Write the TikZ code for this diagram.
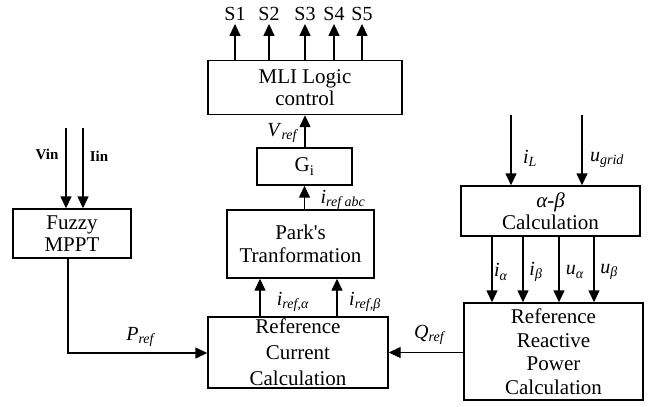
\documentclass[tikz,border=0pt]{standalone}
\usepackage{fontspec}
\setmainfont{Liberation Serif}
\usetikzlibrary{arrows.meta}
% italic symbol with italic subscript
\newcommand\isym[2]{\textit{#1}\textsubscript{\textit{#2}}}
\begin{document}
\begin{tikzpicture}[x=1pt,y=-1pt,
  box/.style={draw, line width=1.4pt, align=center, inner sep=0pt,
    font=\fontsize{21}{23.5}\selectfont},
  sig/.style={line width=1.4pt, -{Triangle[width=11pt,length=12pt]}},
  lab/.style={inner sep=1pt, font=\fontsize{20}{22}\selectfont},
  outlab/.style={inner sep=1pt, font=\fontsize{20}{21}\selectfont},
  inlab/.style={inner sep=1pt, font=\fontsize{15}{17}\selectfont\bfseries}]
\useasboundingbox (0,0) rectangle (648,407);

% blocks
\node[box, minimum width=194pt, minimum height=54pt, font=\fontsize{21}{22}\selectfont] (mli) at (305,87.5) {MLI Logic\\control};
\node[box, minimum width=95pt, minimum height=37pt] (gi) at (304.5,166.5) {G\textsubscript{i}};
\node[box, minimum width=147pt, minimum height=68pt] (pk) at (300.5,244) {Park\textquotesingle s\\Tranformation};
\node[box, minimum width=180pt, minimum height=71pt, font=\fontsize{21}{26}\selectfont] (rc) at (298,352.5) {Reference\\Current\\Calculation};
\node[box, minimum width=118pt, minimum height=49pt, font=\fontsize{21}{22}\selectfont] (fz) at (72,233.5) {Fuzzy\\MPPT};
\node[box, minimum width=179pt, minimum height=50pt, font=\fontsize{21}{22}\selectfont] (ab) at (550.5,211) {\textit{α-β}\\Calculation};
\node[box, minimum width=179pt, minimum height=97pt] (rq) at (553.5,351.5) {Reference\\Reactive\\Power\\Calculation};

% switching outputs
\foreach \n/\x in {1/235,2/269,3/305,4/334,5/362}{
  \node[outlab] (s\n) at (\x,14) {S\n};
  \draw[sig] (mli.north -| s\n) -- ([yshift=-2pt]s\n.south);
}

% main chain
\draw[sig] (gi.north -| mli.south) -- (mli.south);
\node[lab] (vref) at (283,133) {\isym{V}{ref}};
\draw[sig] (pk.north -| gi.south) -- (gi.south);
\node[lab] (iabc) at (343,200) {\isym{i}{ref abc}};

\coordinate (pa) at (260,300);
\coordinate (pb) at (337,300);
\draw[sig] (rc.north -| pa) -- (pk.south -| pa);
\draw[sig] (rc.north -| pb) -- (pk.south -| pb);
\node[lab] (ira) at (293,302) {\isym{i}{ref,α}};
\node[lab] (irb) at (365,302) {\isym{i}{ref,β}};

% MPPT branch
\coordinate (vin0) at (66,128);
\coordinate (iin0) at (83,128);
\draw[sig] (vin0) -- (vin0 |- fz.north);
\draw[sig] (iin0) -- (iin0 |- fz.north);
\node[inlab] (vin) at (47,154) {Vin};
\node[inlab] (iin) at (99,156) {Iin};
\coordinate (pc) at (68,353);
\draw[sig] (fz.south -| pc) -- (pc) -- (pc -| rc.west);
\node[lab] (pref) at (141,337) {\isym{P}{ref}};

% reactive branch
\draw[sig] (rq.west |- rc.east) -- (rc.east);
\node[lab] (qref) at (430,335) {\isym{Q}{ref}};

\coordinate (il0) at (511,115);
\coordinate (ug0) at (582,115);
\draw[sig] (il0) -- (il0 |- ab.north);
\draw[sig] (ug0) -- (ug0 |- ab.north);
\node[lab] (il) at (530,158) {\isym{i}{L}};
\node[lab] (ug) at (607,160) {\isym{u}{grid}};

\foreach \k/\x in {1/492,2/523,3/559,4/594}{
  \coordinate (o\k) at (\x,0);
  \draw[sig] (ab.south -| o\k) -- (rq.north -| o\k);
}
\node[lab] (ia) at (501,272) {\isym{i}{α}};
\node[lab] (ib) at (536,272) {\isym{i}{β}};
\node[lab] (ua) at (575,272) {\isym{u}{α}};
\node[lab] (ub) at (609,272) {\isym{u}{β}};
\end{tikzpicture}
\end{document}
